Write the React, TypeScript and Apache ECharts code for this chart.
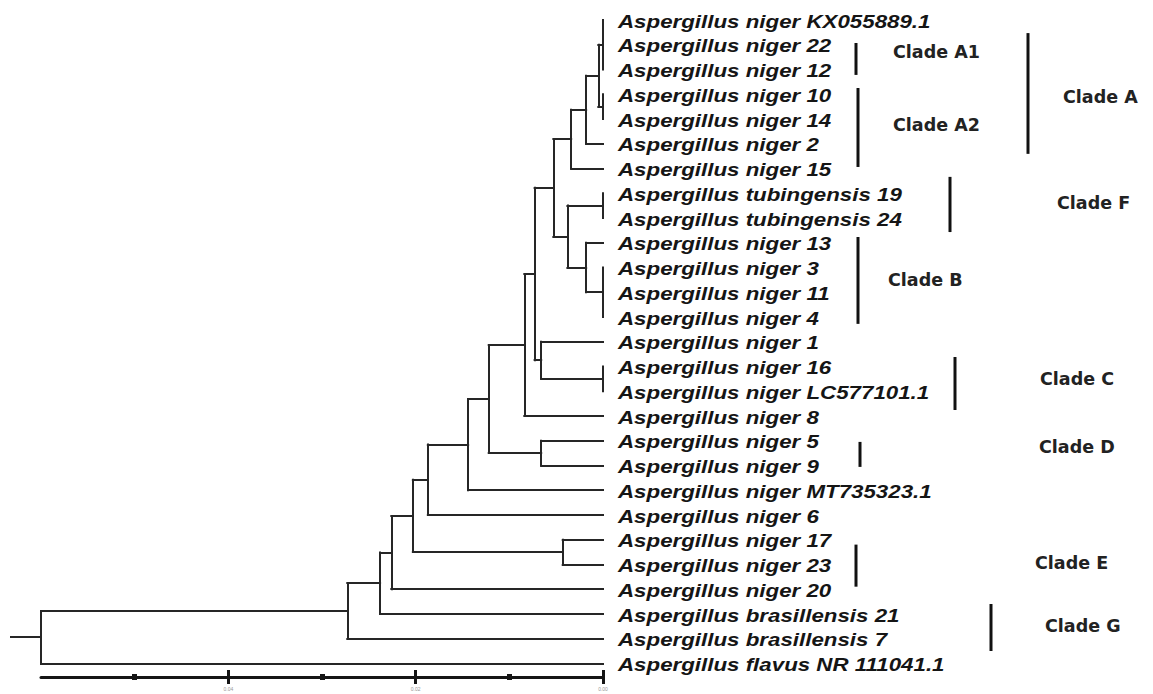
import React, { useEffect, useRef } from "react";
import * as echarts from "echarts";

// ---- DATA ----
const leafNames = [
  "Aspergillus niger KX055889.1",
  "Aspergillus niger 22",
  "Aspergillus niger 12",
  "Aspergillus niger 10",
  "Aspergillus niger 14",
  "Aspergillus niger 2",
  "Aspergillus niger 15",
  "Aspergillus tubingensis 19",
  "Aspergillus tubingensis 24",
  "Aspergillus niger 13",
  "Aspergillus niger 3",
  "Aspergillus niger 11",
  "Aspergillus niger 4",
  "Aspergillus niger 1",
  "Aspergillus niger 16",
  "Aspergillus niger LC577101.1",
  "Aspergillus niger 8",
  "Aspergillus niger 5",
  "Aspergillus niger 9",
  "Aspergillus niger MT735323.1",
  "Aspergillus niger 6",
  "Aspergillus niger 17",
  "Aspergillus niger 23",
  "Aspergillus niger 20",
  "Aspergillus brasillensis 21",
  "Aspergillus brasillensis 7",
  "Aspergillus flavus NR 111041.1",
];

// internal nodes: id, height (distance from tips), children (number = leaf index, string = node id)
const nodeIds = [
  "nA1", "nA2", "n600", "n588a", "n573", "nF", "nB3", "n588b", "n569", "n555",
  "nC", "n543", "n537", "n526", "nD", "n490", "n470", "n430", "nE", "n415",
  "n393", "n382", "n349", "root",
];
const nodeHeights = [
  0, 0, 0.0005, 0.0018, 0.0034, 0, 0, 0.0018, 0.0038, 0.0053,
  0, 0.0066, 0.0073, 0.0084, 0.0066, 0.0122, 0.0144, 0.0187, 0.0043, 0.0203,
  0.0226, 0.0238, 0.0273, 0.06,
];
const nodeChildren: (number | string)[][] = [
  [0, 1, 2], [3, 4], ["nA1", "nA2"], ["n600", 5], ["n588a", 6], [7, 8], [10, 11, 12], [9, "nB3"], ["nF", "n588b"], ["n573", "n569"],
  [14, 15], [13, "nC"], ["n555", "n543"], ["n537", 16], [17, 18], ["n526", "nD"], ["n490", 19], ["n470", 20], [21, 22], ["n430", "nE"],
  ["n415", 23], ["n393", 24], ["n382", 25], ["n349", 26],
];
const rootStub = 0.0032;

const scaleTicks = [0, 0.02, 0.04];
const scaleMinor = [0.01, 0.03, 0.05];

const cladeNames = ["Clade A1", "Clade A2", "Clade A", "Clade F", "Clade B", "Clade C", "Clade D", "Clade E", "Clade G"];
const cladeRowStart = [0.93, 2.75, 0.53, 6.34, 8.77, 13.62, 17.05, 21.2, 23.6];
const cladeRowEnd = [2.22, 5.94, 5.41, 8.57, 12.28, 15.76, 18.06, 22.9, 25.5];
const cladeLabelRow = [1.29, 4.24, 3.11, 7.39, 10.5, 14.5, 17.25, 21.94, 24.5];

// ---- LAYOUT (pixels) ----
const cladeBarX = [856, 858, 1028, 950, 858, 955, 860, 856, 991];
const cladeLabelX = [893, 893, 1063, 1057, 888, 1040, 1039, 1035, 1045];

function buildSegments() {
  const idx: Record<string, number> = {};
  nodeIds.forEach((id, i) => (idx[id] = i));
  const segs: number[][][] = [];
  const memo: Record<string, [number, number]> = {};
  function pos(ref: number | string): [number, number] {
    if (typeof ref === "number") return [0, ref];
    if (memo[ref]) return memo[ref];
    const i = idx[ref];
    const h = nodeHeights[i];
    const kids = nodeChildren[i].map(pos);
    const ys = kids.map((k) => k[1]);
    const yMin = Math.min(...ys);
    const yMax = Math.max(...ys);
    segs.push([[h, yMin], [h, yMax]]);
    kids.forEach((k) => {
      if (h - k[0] > 1e-9) segs.push([[h, k[1]], [k[0], k[1]]]);
    });
    const p: [number, number] = [h, (yMin + yMax) / 2];
    memo[ref] = p;
    return p;
  }
  const r = pos("root");
  segs.push([[r[0], r[1]], [r[0] + rootStub, r[1]]]);
  return segs;
}

export default function App() {
  const ref = useRef<HTMLDivElement>(null);
  useEffect(() => {
    document.body.style.margin = "0";
    const chart = echarts.init(ref.current!, null, { renderer: "svg" });
    const segs = buildSegments();
    const xBase = {
      type: "value" as const,
      min: 0,
      max: 0.06,
      inverse: true,
      position: "bottom" as const,
      offset: 0,
      splitLine: { show: false },
    };
    const tickColor = "#151515";
    const option: any = {
      animation: false,
      backgroundColor: "#ffffff",
      grid: { left: 41, right: 550, top: 7.6, bottom: 17, outerBoundsMode: "none" },
      xAxis: [
        {
          ...xBase,
          axisLine: { show: true, onZero: false, lineStyle: { color: tickColor, width: 3 } },
          axisTick: { show: true, length: 7, customValues: scaleTicks, lineStyle: { color: tickColor, width: 3 } },
          axisLabel: {
            show: true,
            customValues: scaleTicks,
            formatter: (v: number) => v.toFixed(2),
            fontSize: 5,
            color: "#999",
            margin: 9,
            fontFamily: "Liberation Sans, Arial, sans-serif",
          },
        },
        {
          ...xBase,
          axisLine: { show: false, onZero: false },
          axisTick: { show: true, inside: true, length: 7, customValues: scaleTicks, lineStyle: { color: tickColor, width: 3 } },
          axisLabel: { show: false },
        },
        {
          ...xBase,
          axisLine: { show: false, onZero: false },
          axisTick: { show: true, length: 3, customValues: scaleMinor, lineStyle: { color: tickColor, width: 5 } },
          axisLabel: { show: false },
        },
        {
          ...xBase,
          axisLine: { show: false, onZero: false },
          axisTick: { show: true, inside: true, length: 3, customValues: scaleMinor, lineStyle: { color: tickColor, width: 5 } },
          axisLabel: { show: false },
        },
      ],
      yAxis: {
        type: "value",
        min: -0.5,
        max: 26.55,
        inverse: true,
        show: false,
      },
      series: [
        {
          type: "lines",
          coordinateSystem: "cartesian2d",
          xAxisIndex: 0,
          yAxisIndex: 0,
          clip: false,
          polyline: false,
          lineStyle: { color: "#262626", width: 2, opacity: 1, cap: "square" },
          data: segs.map((s) => ({ coords: s })),
        },
        {
          type: "custom",
          xAxisIndex: 0,
          yAxisIndex: 0,
          clip: false,
          data: leafNames.map((n, i) => [0, i]),
          renderItem: (params: any, api: any) => {
            const p = api.coord([api.value(0), api.value(1)]);
            return {
              type: "text",
              x: p[0] + 15,
              y: p[1] + 1.5,
              scaleX: 1.24,
              style: {
                text: leafNames[params.dataIndex],
                fill: "#151515",
                font: 'italic bold 18px "Liberation Sans", Arial, sans-serif',
                align: "left",
                verticalAlign: "middle",
                textAlign: "left",
                textVerticalAlign: "middle",
              },
            };
          },
        },
        {
          type: "custom",
          xAxisIndex: 0,
          yAxisIndex: 0,
          clip: false,
          data: cladeNames.map((n, i) => [cladeRowStart[i], cladeRowEnd[i], cladeLabelRow[i]]),
          renderItem: (params: any, api: any) => {
            const i = params.dataIndex;
            const y1 = api.coord([0, api.value(0)])[1];
            const y2 = api.coord([0, api.value(1)])[1];
            const yl = api.coord([0, api.value(2)])[1];
            return {
              type: "group",
              children: [
                {
                  type: "line",
                  shape: { x1: cladeBarX[i], y1, x2: cladeBarX[i], y2 },
                  style: { stroke: "#111", lineWidth: 3 },
                },
                {
                  type: "text",
                  x: cladeLabelX[i],
                  y: yl,
                  style: {
                    text: cladeNames[i],
                    fill: "#222",
                    font: 'bold 17.5px "DejaVu Sans", Verdana, sans-serif',
                    align: "left",
                    verticalAlign: "middle",
                    textAlign: "left",
                    textVerticalAlign: "middle",
                  },
                },
              ],
            };
          },
        },
      ],
    };
    chart.setOption(option);
    return () => chart.dispose();
  }, []);
  return <div ref={ref} style={{ width: 1153, height: 694, overflow: "hidden" }} />;
}
